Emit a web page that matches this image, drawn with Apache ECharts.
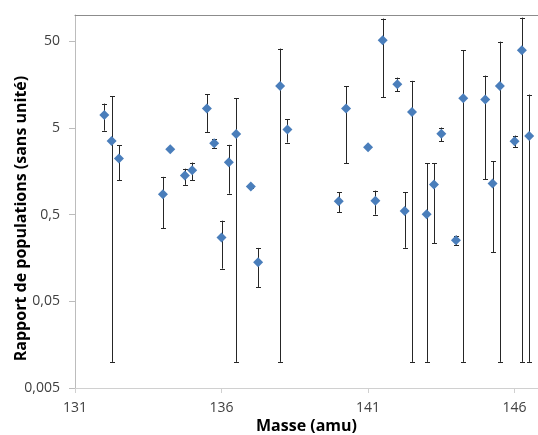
<!DOCTYPE html>
<html>
<head>
<meta charset="utf-8">
<script src="https://cdn.jsdelivr.net/npm/echarts@6/dist/echarts.min.js"></script>
<style>
html,body{margin:0;padding:0;background:#fff;}
#c{width:538px;height:435px;}
</style>
</head>
<body>
<div id="c"></div>
<script>
// ---- data ----
const masses = [132, 132.25, 132.5, 134, 134.25, 134.75, 135, 135.5, 135.75, 136, 136.25, 136.5, 137, 137.25, 138, 138.25, 140, 140.25, 141, 141.25, 141.5, 142, 142.25, 142.5, 143, 143.25, 143.5, 144, 144.25, 145, 145.25, 145.5, 146, 146.25, 146.5];
const ratios = [7.05, 3.53, 2.21, 0.857, 2.83, 1.41, 1.62, 8.34, 3.32, 0.271, 2.01, 4.25, 1.05, 0.141, 15.2, 4.77, 0.711, 8.34, 2.99, 0.723, 51.2, 15.9, 0.551, 7.62, 0.504, 1.11, 4.28, 0.253, 10.97, 10.6, 1.14, 15.2, 3.50, 39.3, 4.03];
const upperBars = [9.51, 11.57, 3.15, 1.36, 2.9, 1.69, 1.99, 12.2, 3.69, 0.425, 3.18, 10.9, 1.08, 0.206, 41.0, 6.28, 0.904, 15.1, 3.08, 0.944, 91, 18.97, 0.904, 17.4, 1.95, 1.95, 5.04, 0.286, 39.3, 20.0, 2.07, 49.3, 4.07, 93.3, 12.1];
const lowerBars = [4.64, 0.01, 1.25, 0.348, 2.76, 1.10, 1.24, 4.48, 2.91, 0.119, 0.871, 0.01, 1.02, 0.0731, 0.01, 3.38, 0.531, 1.95, 2.9, 0.499, 11.2, 13.2, 0.207, 0.01, 0.01, 0.235, 3.50, 0.223, 0.01, 1.28, 0.184, 0.01, 3.01, 0.01, 0.01];
const yTickValues = [0.005, 0.05, 0.5, 5, 50];
const yTickLabels = ['0,005', '0,05', '0,5', '5', '50'];
const xTickValues = [131, 136, 141, 146];
const xTickLabels = ['131', '136', '141', '146'];

const FONT = '"Open Sans"';
const chart = echarts.init(document.getElementById('c'), null, {renderer: 'canvas'});

const pts = masses.map((m, i) => [m, ratios[i]]);
const errs = masses.map((m, i) => [m, lowerBars[i], upperBars[i]]);

function yLabel(v) {
  let best = 0, bd = Infinity;
  yTickValues.forEach((t, i) => { const d = Math.abs(Math.log10(v) - Math.log10(t)); if (d < bd) { bd = d; best = i; } });
  return bd < 0.01 ? yTickLabels[best] : '';
}
function xLabel(v) {
  const i = xTickValues.findIndex(t => Math.abs(t - v) < 1e-6);
  return i >= 0 ? xTickLabels[i] : '';
}

chart.setOption({
  animation: false,
  backgroundColor: '#fff',
  grid: {left: 75, right: 0, top: 15, bottom: 47, containLabel: false, outerBoundsMode: 'none'},
  xAxis: [{
    type: 'value', min: 131, max: 146.8, interval: 5,
    name: 'Masse (amu)', nameLocation: 'middle', nameGap: 30, nameMoveOverlap: false,
    nameTextStyle: {fontFamily: FONT, fontSize: 16, fontWeight: 'bold', color: '#000'},
    axisLine: {lineStyle: {color: '#d0d0d0', width: 1}},
    axisTick: {show: true, length: 5, lineStyle: {color: '#d0d0d0'}, customValues: xTickValues},
    axisLabel: {fontFamily: FONT, fontSize: 14, color: '#404040', margin: 13, customValues: xTickValues, formatter: xLabel},
    splitLine: {show: false}
  }, {
    type: 'value', min: 131, max: 146.8, position: 'top',
    axisLine: {show: true, lineStyle: {color: '#8c8c8c', width: 1}},
    axisTick: {show: false}, axisLabel: {show: false}, splitLine: {show: false}
  }],
  yAxis: {
    type: 'log', logBase: 10, min: 0.005, max: 100,
    name: 'Rapport de populations (sans unité)', nameLocation: 'middle', nameGap: 46, nameRotate: 90, nameMoveOverlap: false,
    nameTextStyle: {fontFamily: FONT, fontSize: 16, fontWeight: 'bold', color: '#000', padding: [0, 34, 0, 0]},
    axisLine: {show: true, lineStyle: {color: '#bcbcbc', width: 1}},
    axisTick: {show: true, length: 6, lineStyle: {color: '#bcbcbc'}, customValues: yTickValues},
    axisLabel: {fontFamily: FONT, fontSize: 14, color: '#404040', margin: 15, customValues: yTickValues, formatter: yLabel},
    splitLine: {show: false}
  },
  series: [{
    type: 'custom',
    xAxisIndex: 0,
    data: errs,
    z: 2,
    renderItem: function (params, api) {
      const x = api.value(0);
      const lo = api.coord([x, api.value(1)]);
      const hi = api.coord([x, api.value(2)]);
      const cx = Math.round(lo[0]) + 0.5;
      const h = 2.5;
      const st = {stroke: '#262626', lineWidth: 1};
      return {
        type: 'group',
        children: [
          {type: 'line', shape: {x1: cx, y1: hi[1], x2: cx, y2: lo[1]}, style: st},
          {type: 'line', shape: {x1: cx - h, y1: Math.round(hi[1]) + 0.5, x2: cx + h, y2: Math.round(hi[1]) + 0.5}, style: st},
          {type: 'line', shape: {x1: cx - h, y1: Math.round(lo[1]) + 0.5, x2: cx + h, y2: Math.round(lo[1]) + 0.5}, style: st}
        ]
      };
    }
  }, {
    type: 'scatter',
    xAxisIndex: 0,
    data: pts,
    symbol: 'diamond',
    symbolSize: 10,
    itemStyle: {color: '#4a7ebb', opacity: 1},
    z: 3
  }]
});
</script>
</body>
</html>
